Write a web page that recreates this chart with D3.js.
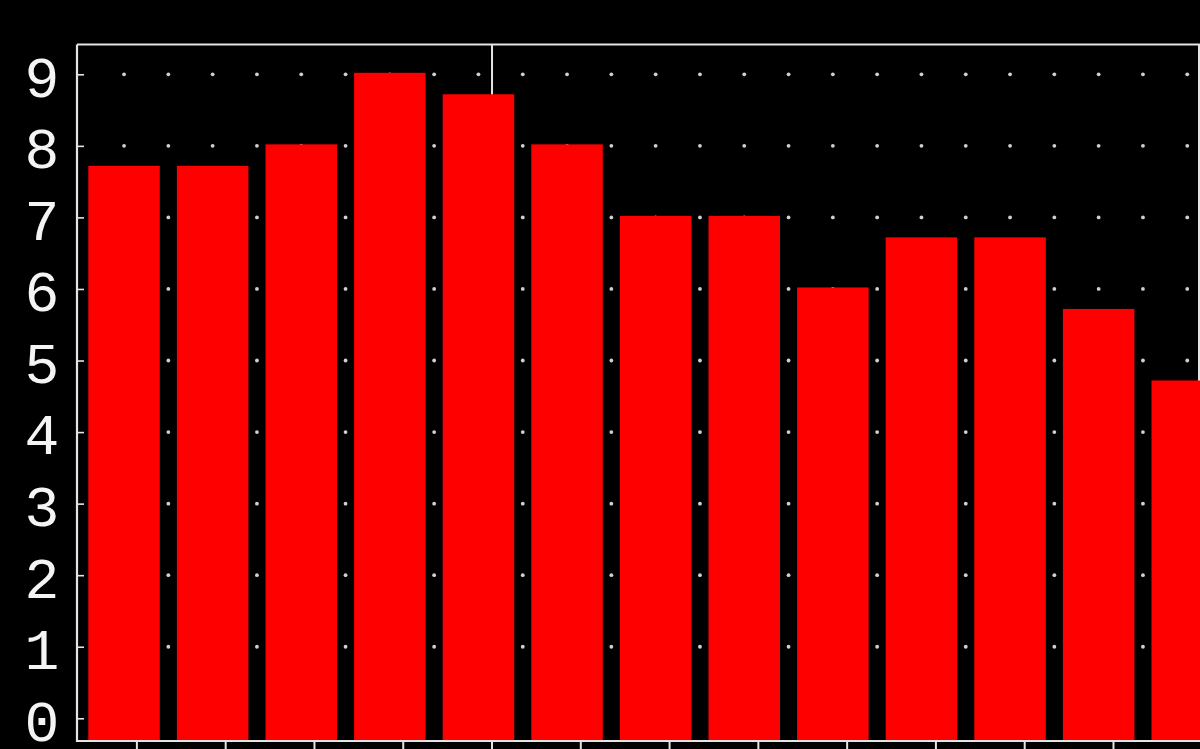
<!DOCTYPE html>
<html>
<head>
<meta charset="utf-8">
<script src="https://cdn.jsdelivr.net/npm/d3@7"></script>
<style>
  html, body { margin: 0; padding: 0; background: #000; overflow: hidden; }
  svg { display: block; }
</style>
</head>
<body>
<svg id="chart" width="1200" height="749"></svg>
<script>
// ---- data ----
const categories = ["1","2","3","4","5","6","7","8","9","10","11","12","13"];
const values = [7.7, 7.7, 8.0, 9.0, 8.7, 8.0, 7.0, 7.0, 6.0, 6.7, 6.7, 5.7, 4.7];
const yTicks = [0, 1, 2, 3, 4, 5, 6, 7, 8, 9];
const xTickIndex = [0, 1, 2, 3, 4, 5, 6, 7, 8, 9, 10, 11];
const dividerTick = 4;

// ---- layout ----
const W = 1200, H = 749;
const frame = { left: 77, top: 44.5, right: 1199, bottom: 741 };
const step = 88.6;

const svg = d3.select("#chart");
svg.append("rect").attr("width", W).attr("height", H).attr("fill", "#000");

const y = d3.scaleLinear().domain([0, 9]).range([718.3, 74.3]);

const x = d3.scaleBand()
  .domain(categories)
  .range([79.75, 79.75 + step * categories.length])
  .paddingInner(0.193)
  .paddingOuter(0.0965);

// half-step positions for dotted grid
const dotX = d3.scaleLinear().domain([0, 1]).range([x(categories[0]) + x.bandwidth() / 2, x(categories[0]) + x.bandwidth() / 2 + step / 2]);
const dotIdx = d3.range(0, 25);

// bottom tick positions
const tickX = d3.scaleLinear().domain([0, 1]).range([136.9, 136.9 + 88.78]);

const gridColor = "#d0d0d0";
const lineColor = "#e4e4e4";

// dotted grid
const grid = svg.append("g");
yTicks.filter(t => t > 0).forEach(t => {
  grid.selectAll(null).data(dotIdx).enter().append("circle")
    .attr("cx", d => dotX(d))
    .attr("cy", y(t))
    .attr("r", 1.9)
    .attr("fill", gridColor);
});

// frame top + right
svg.append("line").attr("x1", frame.left).attr("x2", frame.right + 1).attr("y1", frame.top).attr("y2", frame.top)
  .attr("stroke", lineColor).attr("stroke-width", 2.2);
svg.append("line").attr("x1", frame.right).attr("x2", frame.right).attr("y1", frame.top).attr("y2", frame.bottom)
  .attr("stroke", lineColor).attr("stroke-width", 2);

// divider line
svg.append("line").attr("x1", tickX(dividerTick)).attr("x2", tickX(dividerTick))
  .attr("y1", frame.top).attr("y2", frame.bottom)
  .attr("stroke", lineColor).attr("stroke-width", 2);

// bars
svg.append("g").selectAll("rect").data(values).enter().append("rect")
  .attr("x", (d, i) => x(categories[i]))
  .attr("width", x.bandwidth())
  .attr("y", d => y(d) - 1.5)
  .attr("height", d => frame.bottom - (y(d) - 1.5))
  .attr("fill", "#ff0000");

// left axis line
svg.append("line").attr("x1", frame.left).attr("x2", frame.left).attr("y1", frame.top).attr("y2", frame.bottom + 1)
  .attr("stroke", lineColor).attr("stroke-width", 2.2);

// y ticks inward
const yAxis = d3.axisRight(y).tickValues(yTicks).tickSize(7).tickFormat("");
const yg = svg.append("g").attr("transform", `translate(${frame.left},0)`).call(yAxis);
yg.select(".domain").remove();
yg.selectAll(".tick line").attr("stroke", lineColor).attr("stroke-width", 1.6);

// y labels
svg.append("g").selectAll("text").data(yTicks).enter().append("text")
  .attr("x", 42)
  .attr("y", d => y(d) + 22.4)
  .attr("text-anchor", "middle")
  .attr("font-family", "'Liberation Mono', monospace")
  .attr("font-size", 58)
  .attr("fill", "#f4f4f4")
  .text(d => d);

// bottom axis line
svg.append("line").attr("x1", frame.left - 1).attr("x2", W).attr("y1", frame.bottom).attr("y2", frame.bottom)
  .attr("stroke", lineColor).attr("stroke-width", 2.2);

// bottom ticks
svg.append("g").selectAll("line").data(xTickIndex).enter().append("line")
  .attr("x1", d => tickX(d)).attr("x2", d => tickX(d))
  .attr("y1", frame.bottom).attr("y2", H)
  .attr("stroke", lineColor).attr("stroke-width", 2);
</script>
</body>
</html>
